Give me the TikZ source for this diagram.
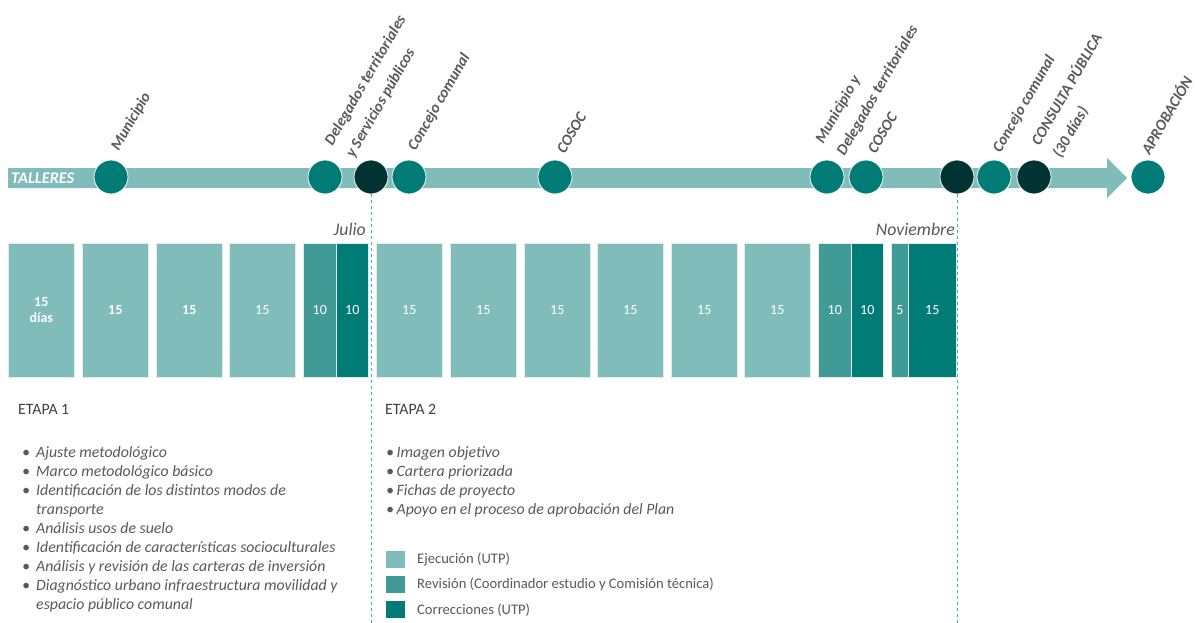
\documentclass[tikz,border=0pt]{standalone}
\usepackage{fontspec}
\setmainfont{Carlito}
\usetikzlibrary{positioning}
\definecolor{ejec}{HTML}{80BCB9}
\definecolor{revi}{HTML}{409B97}
\definecolor{corr}{HTML}{007B76}
\definecolor{oscuro}{HTML}{003331}
\definecolor{gristxt}{HTML}{595959}
\definecolor{titulo}{HTML}{404040}
\definecolor{guia}{HTML}{3FB0BA}
\tikzset{
  hito/.style={circle, fill=corr, draw=white, line width=0.8pt, minimum size=34pt, inner sep=0pt},
  hitoosc/.style={hito, fill=oscuro},
  lbl/.style={rotate=60, anchor=south west, inner sep=0pt, align=left, text=gristxt,
    font=\fontsize{15.5}{21.5}\selectfont\bfseries\itshape},
  mes/.style={anchor=base east, inner sep=0pt, text=gristxt, font=\fontsize{17.8}{18}\selectfont\itshape},
  bloque/.style={draw=white!75!ejec, line width=0.6pt, anchor=north west, inner sep=0pt,
    minimum height=134pt, text=white, align=center, font=\fontsize{14}{16}\selectfont},
  guiadash/.style={guia, dashed, line width=0.8pt},
  etapa/.style={anchor=base west, inner sep=0pt, text=titulo, font=\fontsize{15.8}{16}\selectfont},
  lista/.style={anchor=north west, inner sep=0pt, align=left, text=gristxt,
    font=\fontsize{15.8}{19.1}\selectfont\itshape},
  leyenda/.style={anchor=west, inner sep=0pt, text=gristxt, font=\fontsize{14.6}{15}\selectfont},
  cuadro/.style={minimum width=19pt, minimum height=17pt, inner sep=0pt}
}
\newcommand{\vin}{\makebox[14pt][l]{\textbullet}}
\newcommand{\sig}{\hspace*{14pt}}
\begin{document}
\begin{tikzpicture}[x=1pt, y=-1pt]
  \useasboundingbox (0,0) rectangle (1196,623);
  % linea de tiempo
  \fill[ejec] (8,168) -- (1107,168) -- (1107,158) -- (1127,178) -- (1107,198)
    -- (1107,188) -- (8,188) -- cycle;
  \node[anchor=west, inner sep=0pt, text=white, font=\fontsize{16.3}{16}\selectfont\bfseries\itshape]
    (talleres) at (11,178) {TALLERES};
  \node[hito] (c1) at (111,177) {};
  \node[hito] (c2) at (325,177) {};
  \node[hitoosc] (d1) at (371,177) {};
  \node[hito] (c3) at (409,177) {};
  \node[hito] (c4) at (555,177) {};
  \node[hito] (c5) at (827,177) {};
  \node[hito] (c6) at (866,177) {};
  \node[hitoosc] (d2) at (957,177) {};
  \node[hito] (c7) at (994,177) {};
  \node[hitoosc] (d3) at (1034,177) {};
  \node[hito] (c8) at (1148,177) {};
  % etiquetas
  \node[lbl] (l1) at (121,153) {Municipio};
  \node[lbl] (l2) at (356,160) {Delegados territoriales\\[3pt]y Servicios públicos};
  \node[lbl] (l3) at (418,153) {Concejo comunal};
  \node[lbl] (l4) at (565,155) {COSOC};
  \node[lbl] (l5) at (847,158) {Municipio y\\[3pt]Delegados territoriales};
  \node[lbl] (l6) at (876,155) {COSOC};
  \node[lbl] (l7) at (1003,155) {Concejo comunal};
  \node[lbl] (l8) at (1063,160) {CONSULTA PÚBLICA\\[3pt](30 días)};
  \node[lbl] (l9) at (1150,156) {APROBACIÓN};
  % cortes
  \coordinate (f1) at (371,623);
  \coordinate (f2) at (957,623);
  \draw[guiadash] (d1.south) -- (f1);
  \draw[guiadash] (d2.south) -- (f2);
  \node[mes] (julio) at (366,235) {Julio};
  \node[mes] (nov) at (955,235) {Noviembre};
  % bloques
  \node[bloque, fill=ejec, minimum width=66pt, font=\fontsize{14}{16}\selectfont\bfseries] (b1) at (8,243) {15\\días};
  \foreach \x/\n in {82/2,156/3}
    \node[bloque, fill=ejec, minimum width=66pt, font=\fontsize{14}{16}\selectfont\bfseries] (b\n) at (\x,243) {15};
  \foreach \x/\n in {229/4,376/6,450/7,524/8,597/9,671/10,744/11}
    \node[bloque, fill=ejec, minimum width=66pt] (b\n) at (\x,243) {15};
  \node[bloque, fill=revi, minimum width=33pt] (b5a) at (303,243) {10};
  \node[bloque, fill=corr, minimum width=32pt] (b5b) at (336,243) {10};
  \node[bloque, fill=revi, minimum width=33pt] (b12a) at (818,243) {10};
  \node[bloque, fill=corr, minimum width=32pt] (b12b) at (851,243) {10};
  \node[bloque, fill=revi, minimum width=17pt] (b13a) at (891,243) {5};
  \node[bloque, fill=corr, minimum width=48pt] (b13b) at (908,243) {15};
  % etapas
  \node[etapa] (e1) at (18,414) {ETAPA 1};
  \node[lista] (t1) at (22,446) {\vin Ajuste metodológico\\
    \vin Marco metodológico básico\\
    \vin Identificación de los distintos modos de\\
    \sig transporte\\
    \vin Análisis usos de suelo\\
    \vin Identificación de características socioculturales\\
    \vin Análisis y revisión de las carteras de inversión\\
    \vin Diagnóstico urbano infraestructura movilidad y\\
    \sig espacio público comunal};
  \node[etapa] (e2) at (385,414) {ETAPA 2};
  \node[lista] (t2) at (386,446) {\textbullet\,Imagen objetivo\\
    \textbullet\,Cartera priorizada\\
    \textbullet\,Fichas de proyecto\\
    \textbullet\,Apoyo en el proceso de aprobación del Plan};
  % leyenda
  \node[cuadro, fill=ejec] (q1) at (395,559) {};
  \node[cuadro, fill=revi] (q2) at (395,584) {};
  \node[cuadro, fill=corr] (q3) at (395,609) {};
  \node[leyenda] (y1) at (417,559) {Ejecución (UTP)};
  \node[leyenda] (y2) at (417,584) {Revisión (Coordinador estudio y Comisión técnica)};
  \node[leyenda] (y3) at (417,610) {Correcciones (UTP)};
\end{tikzpicture}
\end{document}
